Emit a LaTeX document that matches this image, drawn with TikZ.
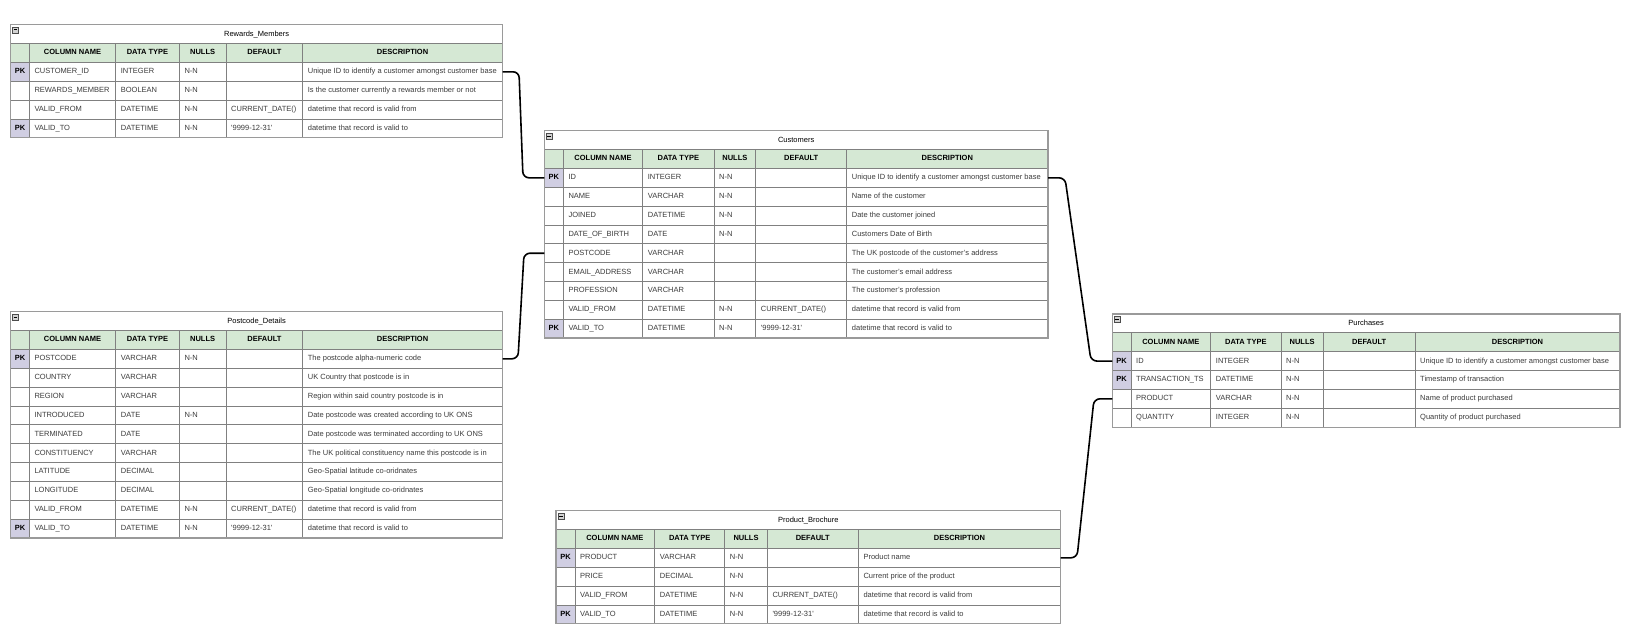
\documentclass[tikz,border=0pt]{standalone}
\usepackage{fontspec}
\setmainfont{Liberation Sans}
\definecolor{hdrg}{HTML}{D5E8D4}
\definecolor{pkc}{HTML}{D0CEE2}
\definecolor{gridc}{HTML}{808080}
\definecolor{framec}{HTML}{9A9A9A}
\definecolor{txtc}{HTML}{3C3C3C}
\def\RH{18.85}
\tikzset{
  tx/.style={inner sep=0pt, text height=5.4pt, text depth=1.5pt, font=\fontsize{7.5}{9}\selectfont},
  ttl/.style={tx, text=black},
  hd/.style={tx, text=black, font=\fontsize{7.5}{9}\selectfont\bfseries},
  pkt/.style={hd},
  dt/.style={tx, text=txtc, anchor=west},
  gridline/.style={draw=gridc, line width=0.8pt},
  framebox/.style={draw=framec, line width=1.2pt},
  conn/.style={draw=black, line width=1.6pt, rounded corners=6pt},
}
% #1 id, #2 top, #3 column boundaries, #4 title, #5 rows
\newcommand{\ertab}[5]{%
\foreach \xa/\xb/\xc/\xd/\xe/\xf/\xg in {#3}{%
  \pgfmathsetmacro\tp{#2}%
  \foreach \rf/\rp/\rn/\rt/\rl/\rd/\rs [count=\n] in {#5}{\xdef\nrows{\n}}%
  \pgfmathsetmacro\bt{\tp+(\nrows+2)*\RH}%
  \pgfmathtruncatemacro\nl{\nrows+1}%
  \fill[white] (\xa,\tp) rectangle (\xg,\bt);
  \fill[hdrg] (\xa,{\tp+\RH}) rectangle (\xg,{\tp+2*\RH});
  \foreach \rf/\rp/\rn/\rt/\rl/\rd/\rs [count=\i] in {#5}{%
    \pgfmathsetmacro\yt{\tp+(\i+1)*\RH}%
    \pgfmathsetmacro\yc{\yt+\RH/2}%
    \fill[\rf] (\xa,\yt) rectangle (\xb,{\yt+\RH});
    \node[pkt] (#1-r\i-pk) at ({(\xa+\xb)/2},\yc) {\rp};
    \node[dt] (#1-r\i-name) at ({\xb+5},\yc) {\rn};
    \node[dt] (#1-r\i-type) at ({\xc+5},\yc) {\rt};
    \node[dt] (#1-r\i-null) at ({\xd+5},\yc) {\rl};
    \node[dt] (#1-r\i-def) at ({\xe+5},\yc) {\rd};
    \node[dt] (#1-r\i-desc) at ({\xf+5},\yc) {\rs};
    \coordinate (#1-r\i-L) at (\xa,\yc);
    \coordinate (#1-r\i-R) at (\xg,\yc);
  }
  \foreach \k in {1,...,\nl}{\draw[gridline] (\xa,{\tp+\k*\RH}) -- (\xg,{\tp+\k*\RH});}
  \foreach \xx in {\xb,\xc,\xd,\xe,\xf}{\draw[gridline] (\xx,{\tp+\RH}) -- (\xx,\bt);}
  \draw[framebox] (\xa,\tp) rectangle (\xg,\bt);
  \node[ttl] (#1-title) at ({(\xa+\xg)/2},{\tp+\RH/2}) {#4};
  \draw[gray!60!black, fill=gray!35, line width=0.5pt] ({\xa+1.8},{\tp+2.2}) rectangle ++(6,6);
  \draw[black, line width=0.8pt] ({\xa+2.9},{\tp+5.2}) -- ++(3.8,0);
  \node[hd] (#1-h1) at ({(\xb+\xc)/2},{\tp+1.5*\RH}) {COLUMN NAME};
  \node[hd] (#1-h2) at ({(\xc+\xd)/2},{\tp+1.5*\RH}) {DATA TYPE};
  \node[hd] (#1-h3) at ({(\xd+\xe)/2},{\tp+1.5*\RH}) {NULLS};
  \node[hd] (#1-h4) at ({(\xe+\xf)/2},{\tp+1.5*\RH}) {DEFAULT};
  \node[hd] (#1-h5) at ({(\xf+\xg)/2},{\tp+1.5*\RH}) {DESCRIPTION};
}}
\begin{document}
\begin{tikzpicture}[x=1pt,y=-1pt]
\useasboundingbox (0,0) rectangle (1635,642);
\fill[white] (0,0) rectangle (1635,642);

\ertab{rew}{24.7}{10.7/29.3/115.7/179.3/226/302.7/502.5}{Rewards\_Members}{%
pkc/PK/CUSTOMER\_ID/INTEGER/N-N//Unique ID to identify a customer amongst customer base,
white//REWARDS\_MEMBER/BOOLEAN/N-N//Is the customer currently a rewards member or not,
white//VALID\_FROM/DATETIME/N-N/CURRENT\_DATE()/datetime that record is valid from,
pkc/PK/VALID\_TO/DATETIME/N-N/\textquotesingle 9999-12-31\textquotesingle/datetime that record is valid to}

\ertab{cus}{130.7}{544.3/563.3/642.7/714/755.7/846.7/1048}{Customers}{%
pkc/PK/ID/INTEGER/N-N//Unique ID to identify a customer amongst customer base,
white//NAME/VARCHAR/N-N//Name of the customer,
white//JOINED/DATETIME/N-N//Date the customer joined,
white//DATE\_OF\_BIRTH/DATE/N-N//Customers Date of Birth,
white//POSTCODE/VARCHAR///The UK postcode of the customer's address,
white//EMAIL\_ADDRESS/VARCHAR///The customer's email address,
white//PROFESSION/VARCHAR///The customer's profession,
white//VALID\_FROM/DATETIME/N-N/CURRENT\_DATE()/datetime that record is valid from,
pkc/PK/VALID\_TO/DATETIME/N-N/\textquotesingle 9999-12-31\textquotesingle/datetime that record is valid to}

\ertab{pos}{311.7}{10.7/29.3/115.7/179.3/226/302.7/502.5}{Postcode\_Details}{%
pkc/PK/POSTCODE/VARCHAR/N-N//The postcode alpha-numeric code,
white//COUNTRY/VARCHAR///UK Country that postcode is in,
white//REGION/VARCHAR///Region within said country postcode is in,
white//INTRODUCED/DATE/N-N//Date postcode was created according to UK ONS,
white//TERMINATED/DATE///Date postcode was terminated according to UK ONS,
white//CONSTITUENCY/VARCHAR///The UK political constituency name this postcode is in,
white//LATITUDE/DECIMAL///Geo-Spatial latitude co-oridnates,
white//LONGITUDE/DECIMAL///Geo-Spatial longitude co-oridnates,
white//VALID\_FROM/DATETIME/N-N/CURRENT\_DATE()/datetime that record is valid from,
pkc/PK/VALID\_TO/DATETIME/N-N/\textquotesingle 9999-12-31\textquotesingle/datetime that record is valid to}

\ertab{pur}{314}{1112.3/1131/1210.7/1281/1323.3/1415/1620}{Purchases}{%
pkc/PK/ID/INTEGER/N-N//Unique ID to identify a customer amongst customer base,
pkc/PK/TRANSACTION\_TS/DATETIME/N-N//Timestamp of transaction,
white//PRODUCT/VARCHAR/N-N//Name of product purchased,
white//QUANTITY/INTEGER/N-N//Quantity of product purchased}

\ertab{pro}{510.7}{556/575/654.7/724.7/767.3/858.3/1060.7}{Product\_Brochure}{%
pkc/PK/PRODUCT/VARCHAR/N-N//Product name,
white//PRICE/DECIMAL/N-N//Current price of the product,
white//VALID\_FROM/DATETIME/N-N/CURRENT\_DATE()/datetime that record is valid from,
pkc/PK/VALID\_TO/DATETIME/N-N/\textquotesingle 9999-12-31\textquotesingle/datetime that record is valid to}

\coordinate (k1a) at (519,71.8);
\coordinate (k1b) at (523,177.8);
\draw[conn] (rew-r1-R) -- (k1a) -- (k1b) -- (cus-r1-L);
\coordinate (k2a) at (524,253.2);
\coordinate (k2b) at (518,358.8);
\draw[conn] (cus-r5-L) -- (k2a) -- (k2b) -- (pos-r1-R);
\coordinate (k3a) at (1065,177.8);
\coordinate (k3b) at (1091,361.1);
\draw[conn] (cus-r1-R) -- (k3a) -- (k3b) -- (pur-r1-L);
\coordinate (k4a) at (1094,398.8);
\coordinate (k4b) at (1077,557.8);
\draw[conn] (pur-r3-L) -- (k4a) -- (k4b) -- (pro-r1-R);
\end{tikzpicture}
\end{document}
